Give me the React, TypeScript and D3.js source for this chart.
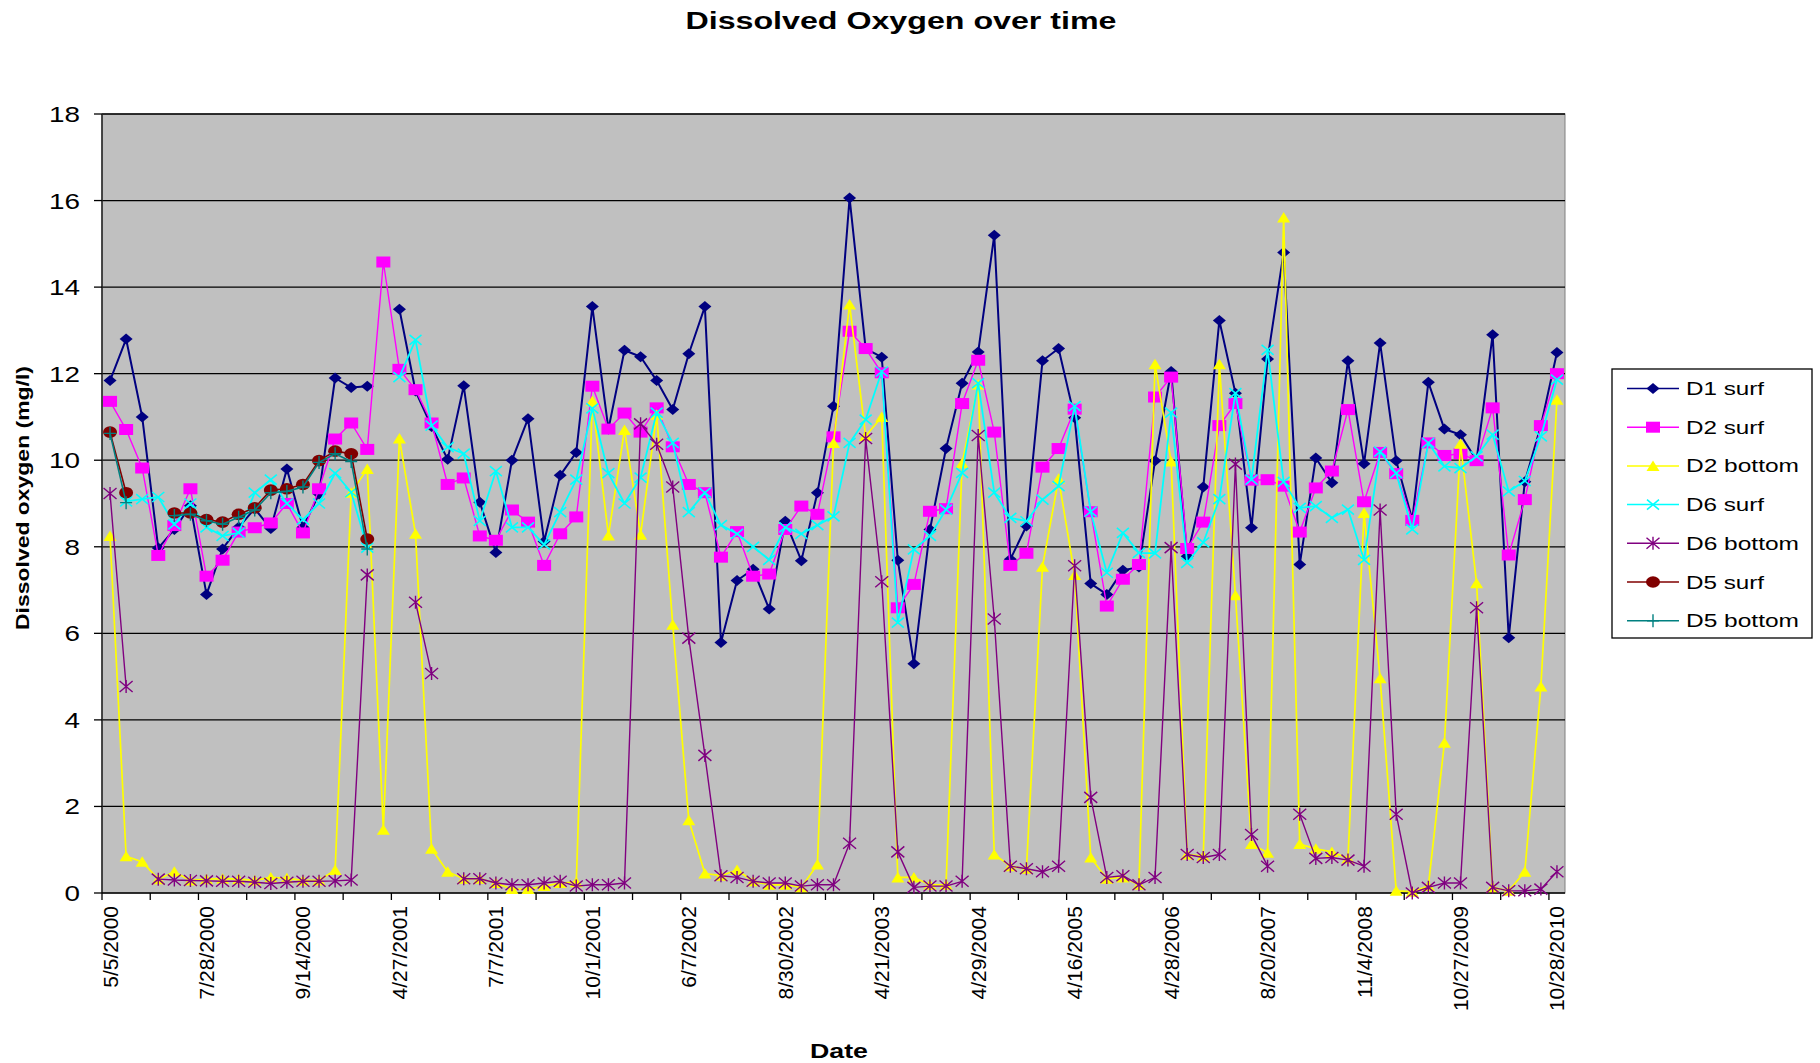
import React from "react";
import * as d3 from "d3";

// ---------- DATA ----------
const tickLabels = [
  "5/5/2000", "7/28/2000", "9/14/2000", "4/27/2001", "7/7/2001", "10/1/2001",
  "6/7/2002", "8/30/2002", "4/21/2003", "4/29/2004", "4/16/2005", "4/28/2006",
  "8/20/2007", "11/4/2008", "10/27/2009", "10/28/2010",
];
const labelEvery = 6;
const tickEvery = 3;
const yTicks = [0, 2, 4, 6, 8, 10, 12, 14, 16, 18];

type V = number | null;
const _ = null;

const d1Surf: V[] = [
  11.84, 12.8, 11.0, 7.97, 8.4, 8.95, 6.9, 7.95, 8.45, 8.88,
  8.42, 9.8, 8.45, 9.22, 11.9, 11.68, 11.71, _, 13.49, 11.6,
  10.78, 10.02, 11.72, 9.03, 7.87, 10.0, 10.96, 8.12, 9.65, 10.18,
  13.55, 10.72, 12.54, 12.39, 11.84, 11.17, 12.46, 13.55, 5.79, 7.22,
  7.48, 6.56, 8.59, 7.68, 9.25, 11.25, 16.06, 12.58, 12.38, 7.69,
  5.3, 8.4, 10.27, 11.78, 12.5, 15.2, 7.71, 8.48, 12.3, 12.58,
  10.98, 7.15, 6.9, 7.46, 7.53, 9.99, 12.05, 7.78, 9.38, 13.23,
  11.55, 8.44, 12.34, 14.8, 7.59, 10.05, 9.48, 12.3, 9.92, 12.71,
  9.99, 8.63, 11.8, 10.72, 10.59, 10.0, 12.9, 5.9, 9.5, 10.8,
  12.49,
];
const d2Surf: V[] = [
  11.36, 10.71, 9.82, 7.8, 8.49, 9.34, 7.32, 7.69, 8.34, 8.44,
  8.55, 9.0, 8.32, 9.34, 10.49, 10.86, 10.25, 14.58, 12.1, 11.63,
  10.86, 9.44, 9.59, 8.25, 8.15, 8.85, 8.57, 7.57, 8.3, 8.69,
  11.71, 10.72, 11.09, 10.65, 11.21, 10.31, 9.44, 9.25, 7.76, 8.35,
  7.32, 7.37, 8.4, 8.94, 8.75, 10.54, 12.98, 12.58, 12.02, 6.59,
  7.13, 8.82, 8.88, 11.31, 12.31, 10.65, 7.57, 7.85, 9.84, 10.27,
  11.18, 8.81, 6.63, 7.25, 7.59, 11.46, 11.92, 7.96, 8.57, 10.8,
  11.31, 9.54, 9.55, 9.4, 8.34, 9.36, 9.75, 11.17, 9.04, 10.18,
  9.69, 8.61, 10.4, 10.11, 10.15, 9.99, 11.21, 7.81, 9.09, 10.8,
  12.0,
];
const d2Bottom: V[] = [
  8.25, 0.85, 0.72, 0.32, 0.49, 0.29, 0.32, 0.33, 0.32, 0.29,
  0.36, 0.34, 0.29, 0.29, 0.53, 9.25, 9.8, 1.46, 10.5, 8.3,
  1.02, 0.49, 0.33, 0.33, 0.23, 0.09, 0.09, 0.16, 0.23, 0.25,
  11.37, 8.26, 10.7, 8.28, 11.05, 6.2, 1.68, 0.45, 0.4, 0.53,
  0.27, 0.19, 0.19, 0.13, 0.66, 10.4, 13.6, 10.56, 11.0, 0.36,
  0.36, 0.19, 0.19, 9.93, 11.75, 0.89, 0.62, 0.56, 7.54, 9.57,
  7.35, 0.82, 0.33, 0.36, 0.19, 12.22, 9.97, 0.89, 0.85, 12.22,
  6.88, 1.13, 0.93, 15.61, 1.13, 1.02, 0.95, 0.8, 8.78, 4.96,
  0.05, 0.03, 0.16, 3.47, 10.38, 7.16, 0.13, 0.05, 0.49, 4.77,
  11.4,
];
const d6Surf: V[] = [
  _, 9.05, 9.1, 9.15, 8.52, 9.0, 8.45, 8.25, 8.32, 9.25,
  9.55, 9.0, 8.63, 9.0, 9.7, 9.26, 7.98, _, 11.92, 12.78,
  10.8, 10.3, 10.15, 8.6, 9.75, 8.45, 8.45, 8.05, 8.8, 9.55,
  11.2, 9.7, 9.0, 9.6, 11.1, 10.4, 8.8, 9.25, 8.5, 8.3,
  8.0, 7.7, 8.45, 8.3, 8.5, 8.7, 10.4, 10.94, 12.05, 6.25,
  7.94, 8.25, 8.86, 9.71, 11.78, 9.25, 8.67, 8.59, 9.09, 9.4,
  11.25, 8.81, 7.4, 8.32, 7.86, 7.85, 11.1, 7.63, 8.1, 9.1,
  11.55, 9.55, 12.55, 9.5, 8.9, 8.94, 8.67, 8.86, 7.7, 10.2,
  9.7, 8.4, 10.4, 9.86, 9.82, 10.09, 10.59, 9.28, 9.52, 10.55,
  11.86,
];
const d6Bottom: V[] = [
  9.23, 4.77, _, 0.32, 0.3, 0.29, 0.28, 0.27, 0.27, 0.25,
  0.22, 0.25, 0.27, 0.27, 0.28, 0.3, 7.35, _, _, 6.72,
  5.07, _, 0.33, 0.33, 0.23, 0.19, 0.19, 0.23, 0.27, 0.16,
  0.19, 0.19, 0.23, 10.84, 10.37, 9.38, 5.89, 3.18, 0.4, 0.36,
  0.27, 0.23, 0.23, 0.16, 0.19, 0.19, 1.15, 10.5, 7.19, 0.95,
  0.13, 0.16, 0.16, 0.27, 10.57, 6.33, 0.62, 0.56, 0.49, 0.62,
  7.56, 2.21, 0.36, 0.4, 0.19, 0.36, 7.98, 0.89, 0.82, 0.89,
  9.91, 1.35, 0.62, _, 1.82, 0.8, 0.82, 0.76, 0.62, 8.85,
  1.82, 0.0, 0.13, 0.23, 0.23, 6.59, 0.13, 0.05, 0.05, 0.09,
  0.49,
];
const d5Surf: V[] = [
  10.65, 9.25, _, _, 8.78, 8.78, 8.63, 8.57, 8.75, 8.9,
  9.31, 9.34, 9.44, 9.99, 10.21, 10.15, 8.18,
];
const d5Bottom: V[] = [
  10.62, 9.02, _, _, 8.72, 8.75, 8.6, 8.52, 8.68, 8.85,
  9.25, 9.28, 9.38, 9.95, 10.15, 9.97, 7.95,
];

type Marker = "diamond" | "square" | "triangle" | "x" | "star" | "circle" | "plus";
const seriesList: { name: string; values: V[]; color: string; width: number; marker: Marker }[] = [
  { name: "D1 surf", values: d1Surf, color: "#000080", width: 2, marker: "diamond" },
  { name: "D2 surf", values: d2Surf, color: "#FF00FF", width: 1.4, marker: "square" },
  { name: "D2 bottom", values: d2Bottom, color: "#FFFF00", width: 1.7, marker: "triangle" },
  { name: "D6 surf", values: d6Surf, color: "#00FFFF", width: 1.8, marker: "x" },
  { name: "D6 bottom", values: d6Bottom, color: "#800080", width: 1.4, marker: "star" },
  { name: "D5 surf", values: d5Surf, color: "#800000", width: 1.6, marker: "circle" },
  { name: "D5 bottom", values: d5Bottom, color: "#008080", width: 1.6, marker: "plus" },
];

// ---------- LAYOUT ----------
const W = 1820;
const H = 1063;
const PL = 102, PR = 1565, PT = 114, PB = 893;
const FONT = "'Liberation Sans', Arial, sans-serif";

function MarkerShape({ type, x, y, color }: { type: Marker; x: number; y: number; color: string }) {
  switch (type) {
    case "diamond":
      return <path d={`M${x},${y - 5.5}L${x + 6.5},${y}L${x},${y + 5.5}L${x - 6.5},${y}Z`} fill={color} />;
    case "square":
      return <rect x={x - 7} y={y - 5.5} width={14} height={11} fill={color} />;
    case "triangle":
      return <path d={`M${x},${y - 5.5}L${x + 6.5},${y + 5}L${x - 6.5},${y + 5}Z`} fill={color} />;
    case "x":
      return (
        <path d={`M${x - 6},${y - 5}L${x + 6},${y + 5}M${x - 6},${y + 5}L${x + 6},${y - 5}`} stroke={color} strokeWidth={1.6} fill="none" />
      );
    case "star":
      return (
        <path
          d={`M${x - 6.5},${y - 5.5}L${x + 6.5},${y + 5.5}M${x - 6.5},${y + 5.5}L${x + 6.5},${y - 5.5}M${x},${y - 6.5}L${x},${y + 6.5}`}
          stroke={color}
          strokeWidth={1.4}
          fill="none"
        />
      );
    case "circle":
      return <ellipse cx={x} cy={y} rx={7} ry={5.8} fill={color} />;
    case "plus":
      return (
        <path d={`M${x - 6},${y}L${x + 6},${y}M${x},${y - 6.5}L${x},${y + 6.5}`} stroke={color} strokeWidth={1.4} fill="none" />
      );
  }
  return null;
}

export default function App() {
  const n = d1Surf.length;
  const x = d3.scaleBand<number>().domain(d3.range(n)).range([PL, PR]).padding(0);
  const bw = x.bandwidth();
  const cx = (i: number) => (x(i) as number) + bw / 2;
  const y = d3.scaleLinear().domain([0, 18]).range([PB, PT]);

  const line = d3
    .line<V>()
    .defined((d) => d !== null)
    .x((_d, i) => cx(i))
    .y((d) => y(d as number));

  const xTickIdx = d3.range(0, n, tickEvery);

  const legendX = 1612, legendY = 369, legendW = 200, legendH = 269;
  const legendStep = 38.7;

  return (
    <svg width={W} height={H} style={{ position: "absolute", left: 0, top: 0, background: "#fff" }} fontFamily={FONT}>
      <rect x={0} y={0} width={W} height={H} fill="#fff" />
      {/* title */}
      <text x={901} y={29} textAnchor="middle" fontSize={23} fontWeight="bold" textLength={431} lengthAdjust="spacingAndGlyphs">
        Dissolved Oxygen over time
      </text>

      {/* plot area */}
      <rect x={PL} y={PT} width={PR - PL} height={PB - PT} fill="#C0C0C0" stroke="#808080" strokeWidth={1} />
      {yTicks.filter((t) => t > 0).map((t) => (
        <line key={t} x1={PL} x2={PR} y1={y(t)} y2={y(t)} stroke="#000" strokeWidth={1.3} />
      ))}
      {/* axes */}
      <line x1={PL} x2={PL} y1={PT} y2={PB} stroke="#222" strokeWidth={1.5} />
      <line x1={PL} x2={PR} y1={PB} y2={PB} stroke="#000" strokeWidth={1.5} />
      {yTicks.map((t) => (
        <g key={t}>
          <line x1={PL - 8} x2={PL} y1={y(t)} y2={y(t)} stroke="#000" strokeWidth={1.3} />
          <text
            x={80}
            y={y(t) + 8}
            textAnchor="end"
            fontSize={22}
            textLength={String(t).length * 15.5}
            lengthAdjust="spacingAndGlyphs"
          >
            {t}
          </text>
        </g>
      ))}
      {xTickIdx.map((i) => (
        <line key={i} x1={x(i)} x2={x(i)} y1={PB} y2={PB + 7} stroke="#000" strokeWidth={1.3} />
      ))}
      {tickLabels.map((lab, k) => {
        const i = k * labelEvery;
        const px = cx(i) + 7.5;
        const py = 906;
        return (
          <text key={lab} x={px} y={py} transform={`rotate(-90 ${px} ${py})`} textAnchor="end" fontSize={21}>
            {lab}
          </text>
        );
      })}

      {/* axis titles */}
      <text x={839} y={1058} textAnchor="middle" fontSize={21} fontWeight="bold" textLength={58} lengthAdjust="spacingAndGlyphs">
        Date
      </text>
      <text
        x={29}
        y={498}
        transform="rotate(-90 29 498)"
        textAnchor="middle"
        fontSize={19}
        fontWeight="bold"
        textLength={264}
        lengthAdjust="spacingAndGlyphs"
      >
        Dissolved oxygen (mg/l)
      </text>

      {/* series */}
      <g clipPath="none">
        {seriesList.map((s) => (
          <g key={s.name}>
            <path d={line(s.values) || ""} fill="none" stroke={s.color} strokeWidth={s.width} strokeLinejoin="round" />
            {s.values.map((v, i) =>
              v === null ? null : <MarkerShape key={i} type={s.marker} x={cx(i)} y={y(v)} color={s.color} />
            )}
          </g>
        ))}
      </g>

      {/* legend */}
      <rect x={legendX} y={legendY} width={legendW} height={legendH} fill="#fff" stroke="#000" strokeWidth={1.3} />
      {seriesList.map((s, k) => {
        const ly = legendY + 19.5 + k * legendStep;
        return (
          <g key={s.name}>
            <line x1={1627} x2={1679} y1={ly} y2={ly} stroke={s.color} strokeWidth={1.5} />
            <MarkerShape type={s.marker} x={1653} y={ly} color={s.color} />
            <text
              x={1686}
              y={ly + 6.5}
              fontSize={17.5}
              textLength={s.name.length > 7 ? 113 : 78}
              lengthAdjust="spacingAndGlyphs"
            >
              {s.name}
            </text>
          </g>
        );
      })}
    </svg>
  );
}
